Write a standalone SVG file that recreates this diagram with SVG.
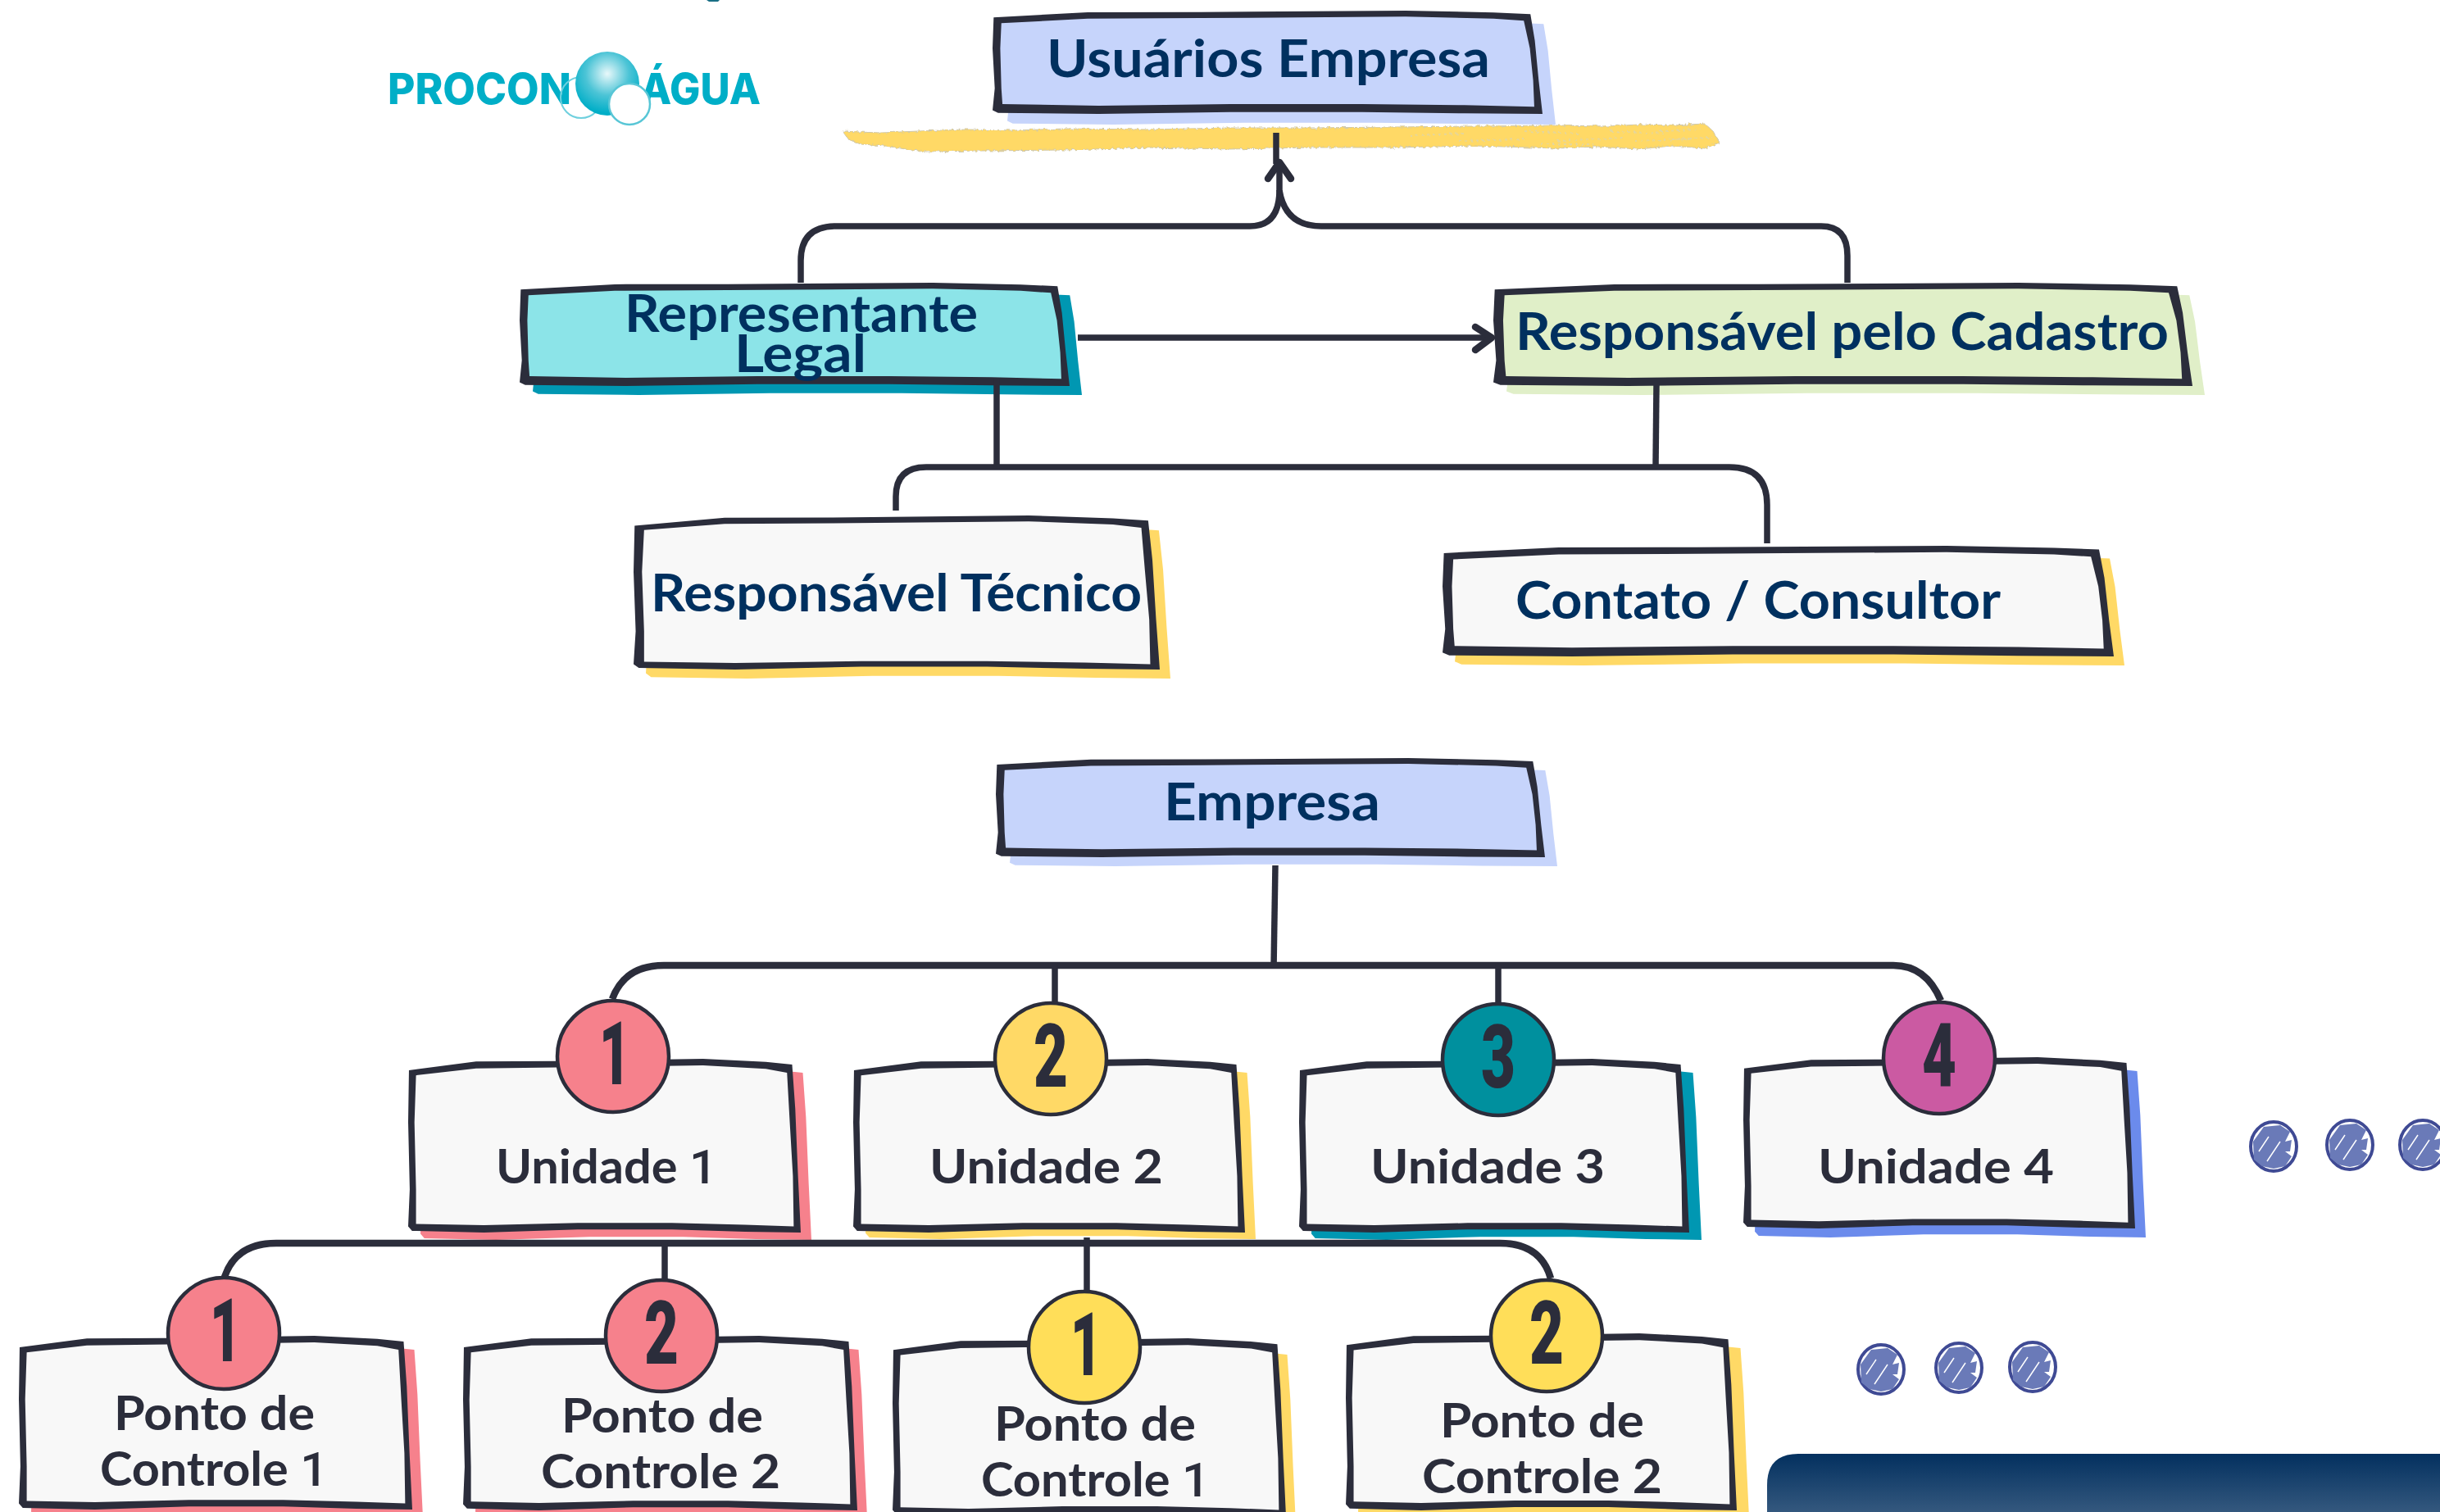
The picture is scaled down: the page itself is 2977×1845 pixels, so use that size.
<svg xmlns="http://www.w3.org/2000/svg" width="2977" height="1845" viewBox="0 0 2977 1845">
<style>
svg{background:#fff}
text{font-family:"Lato","Noto Sans",sans-serif;font-weight:700}
.t{font-size:64px;fill:#00305f}
.u{font-size:58px;fill:#2b2d3b}
.r{font-family:"Roboto",sans-serif;font-weight:500}
.n{font-family:"Roboto","Lato",sans-serif;font-size:107px;fill:#2b2d3b;font-weight:900}
.logo{font-family:"Inter","Lato",sans-serif;font-size:52px;fill:#00aec7;font-weight:800}
.c{fill:none;stroke:#2b2d3b;stroke-width:7.5;stroke-linecap:butt;stroke-linejoin:round}
.w{stroke-width:8.5}
.h{stroke-width:8.5;stroke-linecap:round}
.o{fill:#2b2d3b}
.b{stroke:#2b2d3b;stroke-width:4.5}
.red{fill:#f6818c}.yel{fill:#ffd966}.tea{fill:#0097b2}.blu{fill:#6b8bec}.per{fill:#c6d4fb}.grn{fill:#e0efc8}.cya{fill:#8ce4e8}.wht{fill:#f8f8f8}
</style>
<defs>
<path id="outer" d="M2 66L173 15L379 13L751 0L911 18L978 33L986 289L993 674L1000 1000L858 995L672 982L432 982L193 1000L10 990L0 965L4 751L0 366Z"/>
<symbol id="sh" viewBox="0 0 1000 1000" preserveAspectRatio="none">
<use href="#outer"/>
</symbol>
<symbol id="box" viewBox="0 0 1000 1000" preserveAspectRatio="none">
<use href="#outer" class="o"/>
<path d="M20 95L173 55L379 50L751 38L911 58L965 80L972 366L980 674L982 965L858 955L672 945L432 945L193 958L20 950L20 751L16 366Z"/>
</symbol>
<symbol id="wide" viewBox="0 0 1000 1000" preserveAspectRatio="none">
<use href="#outer" class="o"/>
<path d="M16 122L173 78L379 72L751 58L911 78L966 98L977 366L983 674L985 930L858 915L672 905L432 905L193 920L18 905L16 751L14 366Z"/>
</symbol>
<g id="dot">
<ellipse rx="28" ry="30" fill="#fff" stroke="#3f4a94" stroke-width="4"/>
<path d="M-24 16L-25 -6L-12 -24L8 -26L20 -18L14 -6L22 -8L20 6L14 6L22 12L14 24L0 27L-14 24Z" fill="#6a7ab8"/>
<path d="M-18 6L-6 -12M-8 18L8 -6" fill="none" stroke="#fff" stroke-width="1.5"/>
</g>
<radialGradient id="ball" gradientUnits="userSpaceOnUse" cx="741" cy="90" r="48">
<stop offset="0" stop-color="#e8f8fa"/><stop offset="0.55" stop-color="#4cc4d6"/><stop offset="1" stop-color="#00aec7"/>
</radialGradient>
<linearGradient id="panel" x1="0" y1="0" x2="0" y2="1">
<stop offset="0" stop-color="#03305f"/><stop offset="1" stop-color="#34587e"/>
</linearGradient>
<filter id="rough" x="-2%" y="-30%" width="104%" height="160%">
<feTurbulence type="fractalNoise" baseFrequency="0.25" numOctaves="2" seed="4" result="n"/>
<feDisplacementMap in="SourceGraphic" in2="n" scale="5"/>
</filter>
</defs>

<path d="M862 0H878L876 2H865Z" fill="#1a6f85"/>

<g id="logo">
<text class="logo" x="473" y="127" textLength="224" lengthAdjust="spacingAndGlyphs">PROCON</text>
<text class="logo" x="781" y="127" textLength="147" lengthAdjust="spacingAndGlyphs">ÁGUA</text>
<circle cx="709" cy="119" r="25" fill="none" stroke="#6fd0de" stroke-width="2"/>
<circle cx="741" cy="102" r="39" fill="url(#ball)"/>
<circle cx="768" cy="127" r="25" fill="#fff" stroke="#58c6d6" stroke-width="2.5"/>
</g>

<g id="brush" filter="url(#rough)">
<path fill="#ffd966" stroke="#cfc7a8" stroke-width="1" d="M1028 160L1048 161L1075 162L1120 160L1180 158L1240 159L1300 157L1400 158L1500 156L1600 156L1700 155L1800 154L1900 153L1960 154L2000 152L2040 153L2080 151L2090 160L2098 174L2080 181L2040 178L2000 182L1950 179L1900 181L1800 178L1700 180L1600 180L1500 182L1400 180L1300 183L1200 184L1130 185L1105 182L1080 178L1050 176L1035 170Z"/>
<path fill="none" stroke="#e6d69a" stroke-width="2" stroke-dasharray="3 4" d="M1720 165L1790 163M1780 172L1860 170M1860 160L1925 163M1900 172L1980 168M1965 160L2030 163M1995 172L2065 170M2025 160L2075 158M2040 170L2090 168M1880 176L1945 176"/>
</g>

<g id="usuarios">
<use href="#sh" class="per" x="1229" y="25" width="669" height="127"/>
<use href="#wide" class="per" x="1211" y="13" width="671" height="126"/>
<text class="t" x="1277" y="94" textLength="541" lengthAdjust="spacingAndGlyphs">Usuários Empresa</text>
</g>
<g id="representante">
<use href="#sh" class="tea" x="650" y="356" width="670" height="126"/>
<use href="#wide" class="cya" x="634" y="345" width="671" height="126"/>
<text class="t" x="762" y="405" textLength="431" lengthAdjust="spacingAndGlyphs">Representante</text>
<text class="t" x="896" y="454" textLength="161" lengthAdjust="spacingAndGlyphs">Legal</text>
</g>
<g id="cadastro">
<use href="#sh" class="grn" x="1838" y="356" width="852" height="126"/>
<use href="#wide" class="grn" x="1822" y="345" width="853" height="126"/>
<text class="t" x="1849" y="427" textLength="797" lengthAdjust="spacingAndGlyphs">Responsável pelo Cadastro</text>
</g>
<g id="tecnico">
<use href="#sh" class="yel" x="788" y="641" width="640" height="187"/>
<use href="#box" class="wht" x="773" y="629" width="642" height="188"/>
<text class="t" x="794" y="746" textLength="599" lengthAdjust="spacingAndGlyphs">Responsável Técnico</text>
</g>
<g id="contato">
<use href="#sh" class="yel" x="1775" y="677" width="817" height="135"/>
<use href="#wide" class="wht" x="1760" y="666" width="819" height="135"/>
<text class="t" x="1849" y="755" textLength="592" lengthAdjust="spacingAndGlyphs">Contato / Consultor</text>
</g>
<g id="empresa">
<use href="#sh" class="per" x="1232" y="936" width="668" height="121"/>
<use href="#wide" class="per" x="1215" y="925" width="670" height="121"/>
<text class="t" x="1420" y="1001" textLength="264" lengthAdjust="spacingAndGlyphs">Empresa</text>
</g>

<g id="unidade1">
<use href="#sh" class="red" x="513" y="1302" width="477" height="211"/>
<use href="#box" class="wht" x="498" y="1292" width="479" height="212"/>
<text class="u" x="605" y="1444" textLength="270" lengthAdjust="spacingAndGlyphs">Unidade <tspan class="r">1</tspan></text>
<circle class="b red" cx="748" cy="1289" r="68"/>
<text class="n" x="731" y="1323" textLength="38" lengthAdjust="spacingAndGlyphs">1</text>
</g>
<g id="unidade2">
<use href="#sh" class="yel" x="1056" y="1302" width="476" height="210"/>
<use href="#box" class="wht" x="1041" y="1292" width="478" height="212"/>
<text class="u" x="1134" y="1444" textLength="285" lengthAdjust="spacingAndGlyphs">Unidade 2</text>
<circle class="b yel" cx="1282" cy="1292" r="68"/>
<text class="n" x="1261" y="1326" textLength="42" lengthAdjust="spacingAndGlyphs">2</text>
</g>
<g id="unidade3">
<use href="#sh" class="tea" x="1600" y="1302" width="476" height="211"/>
<use href="#box" class="wht" x="1585" y="1292" width="476" height="212"/>
<text class="u" x="1672" y="1444" textLength="286" lengthAdjust="spacingAndGlyphs">Unidade 3</text>
<circle class="b" cx="1828" cy="1293" r="68" fill="#00909e"/>
<text class="n" x="1807" y="1327" textLength="42" lengthAdjust="spacingAndGlyphs">3</text>
</g>
<g id="unidade4">
<use href="#sh" class="blu" x="2141" y="1300" width="477" height="210"/>
<use href="#box" class="wht" x="2127" y="1290" width="478" height="209"/>
<text class="u" x="2218" y="1444" textLength="288" lengthAdjust="spacingAndGlyphs">Unidade 4</text>
<circle class="b" cx="2366" cy="1291" r="68" fill="#cb5aa2"/>
<text class="n" x="2345" y="1325" textLength="42" lengthAdjust="spacingAndGlyphs">4</text>
</g>

<g id="ponto1">
<use href="#sh" class="red" x="38" y="1640" width="478" height="212"/>
<use href="#box" class="wht" x="23" y="1630" width="480" height="212"/>
<text class="u" x="139" y="1745" textLength="245" lengthAdjust="spacingAndGlyphs">Ponto de</text>
<text class="u" x="122" y="1813" textLength="278" lengthAdjust="spacingAndGlyphs">Controle <tspan class="r">1</tspan></text>
<circle class="b red" cx="273" cy="1627" r="68"/>
<text class="n" x="256" y="1661" textLength="38" lengthAdjust="spacingAndGlyphs">1</text>
</g>
<g id="ponto2">
<use href="#sh" class="red" x="580" y="1640" width="478" height="212"/>
<use href="#box" class="wht" x="565" y="1630" width="481" height="213"/>
<text class="u" x="685" y="1748" textLength="246" lengthAdjust="spacingAndGlyphs">Ponto de</text>
<text class="u" x="660" y="1816" textLength="292" lengthAdjust="spacingAndGlyphs">Controle 2</text>
<circle class="b red" cx="807" cy="1630" r="68"/>
<text class="n" x="786" y="1664" textLength="42" lengthAdjust="spacingAndGlyphs">2</text>
</g>
<g id="ponto3">
<use href="#sh" class="yel" x="1104" y="1646" width="477" height="214"/>
<use href="#box" class="wht" x="1089" y="1633" width="480" height="217"/>
<text class="u" x="1213" y="1758" textLength="246" lengthAdjust="spacingAndGlyphs">Ponto de</text>
<text class="u" x="1197" y="1826" textLength="279" lengthAdjust="spacingAndGlyphs">Controle <tspan class="r">1</tspan></text>
<circle cx="1323" cy="1644" r="68" fill="#ffde59" stroke="#2b2d3b" stroke-width="4.5"/>
<text class="n" x="1306" y="1678" textLength="38" lengthAdjust="spacingAndGlyphs">1</text>
</g>
<g id="ponto4">
<use href="#sh" class="yel" x="1657" y="1638" width="477" height="214"/>
<use href="#box" class="wht" x="1642" y="1627" width="477" height="216"/>
<text class="u" x="1757" y="1754" textLength="249" lengthAdjust="spacingAndGlyphs">Ponto de</text>
<text class="u" x="1735" y="1822" textLength="293" lengthAdjust="spacingAndGlyphs">Controle 2</text>
<circle cx="1887" cy="1630" r="68" fill="#ffde59" stroke="#2b2d3b" stroke-width="4.5"/>
<text class="n" x="1866" y="1664" textLength="42" lengthAdjust="spacingAndGlyphs">2</text>
</g>

<g id="dots">
<use href="#dot" x="2295" y="1671"/><use href="#dot" x="2390" y="1669"/><use href="#dot" x="2480" y="1668"/>
<use href="#dot" x="2774" y="1399"/><use href="#dot" x="2867" y="1397"/><use href="#dot" x="2956" y="1397"/>
</g>

<path id="panel-shape" d="M2156 1845V1812Q2156 1774 2194 1774H2977V1845Z" fill="url(#panel)"/>

<g id="connectors">
<path class="c" d="M977 345V318Q977 276 1020 276H1525Q1561 276 1561 232"/>
<path class="c" d="M2254 345V312Q2254 276 2222 276H1612Q1568 276 1561 232V198"/>
<path class="c" stroke-width="5" d="M1557 162V200"/>
<path class="c h" d="M1547 218L1561 198L1575 218"/>
<path class="c" d="M1315 412H1818"/>
<path class="c h" d="M1800 399L1820 412L1800 427"/>
<path class="c" d="M1216 462V570"/>
<path class="c" d="M2021 470L2020 570"/>
<path class="c" d="M1093 623V606Q1093 570 1130 570H2110Q2156 570 2156 616V663"/>
<path class="c" d="M1556 1056L1554 1181"/>
<path class="c w" d="M747 1219Q762 1178 810 1178H2310Q2350 1178 2368 1221"/>
<path class="c" d="M1287 1178V1226"/>
<path class="c" d="M1828 1178V1227"/>
<path class="c w" d="M274 1558Q288 1517 337 1517H1830Q1880 1517 1892 1560"/>
<path class="c" stroke-width="6" d="M811 1517V1562"/>
<path class="c" d="M1326 1510V1577"/>
</g>
</svg>
